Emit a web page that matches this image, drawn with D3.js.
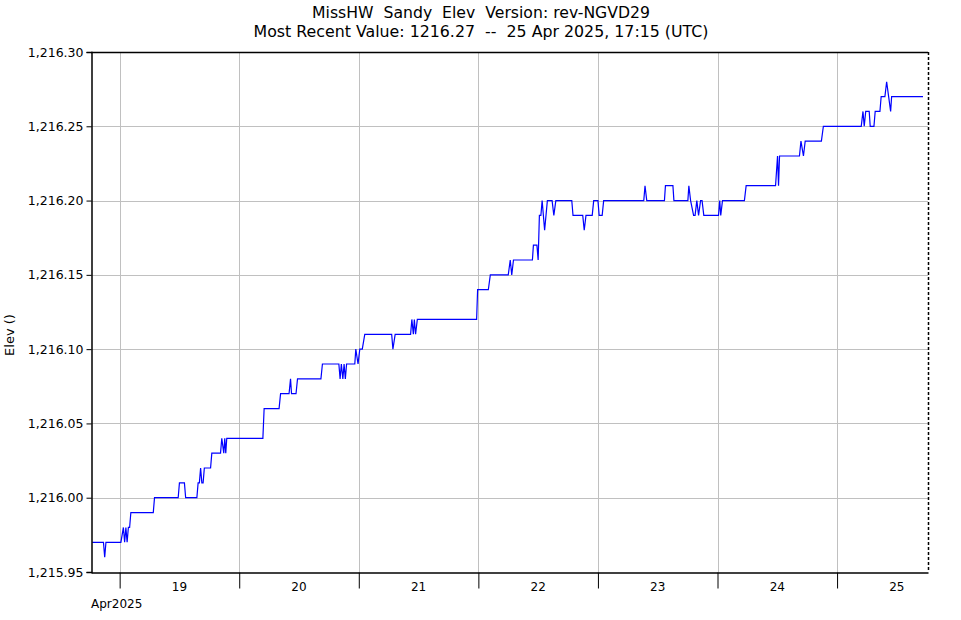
<!DOCTYPE html>
<html><head><meta charset="utf-8">
<script src="https://cdn.jsdelivr.net/npm/d3@7"></script>
<style>body{margin:0;background:#fff;} svg{display:block;} text{white-space:pre;}</style>
</head><body>
<svg id="c" width="961" height="620"></svg>
<script>
// Hours since 2025-04-19 00:00 UTC, and elevation values at those times
const hours = [
 -5.5,-3.25,-3.0,-2.75,0.25,0.75,1.0,1.25,1.5,1.75,2.0,2.25,6.75,7.0,11.75,12.0,13.0,13.25,15.5,15.75,
 16.0,16.25,16.5,16.75,17.0,18.25,18.5,20.25,20.5,20.9,21.1,21.3,21.5,28.75,29.0,32.0,32.3,34.0,34.3,34.5,
 35.4,35.7,40.4,40.7,44.0,44.25,44.5,44.8,45.05,45.3,45.55,47.2,47.4,47.85,48.2,48.7,49.2,54.6,54.85,55.3,
 58.4,58.65,58.95,59.15,59.4,59.75,71.65,71.85,74.0,74.4,78.0,78.4,78.7,79.05,82.85,83.05,83.75,84.0,84.25,84.55,
 84.8,85.3,85.85,86.8,87.15,87.55,90.75,91.0,92.95,93.25,93.6,94.85,95.15,96.0,96.25,96.85,97.15,105.2,105.45,105.8,
 109.35,109.55,111.05,111.25,114.05,114.25,114.6,115.2,115.5,115.85,116.2,116.6,116.9,117.25,120.2,120.45,120.65,121.0,125.4,125.75,
 131.65,132.05,132.25,132.45,136.45,136.75,137.25,137.6,140.85,141.25,148.85,149.2,149.45,149.75,150.45,150.65,151.4,151.65,152.6,152.85,
 153.6,153.95,154.35,154.75,154.95,161.25
];
const values = [
 1215.97,1215.97,1215.96,1215.97,1215.97,1215.98,1215.97,1215.98,1215.97,1215.98,1215.98,1215.99,1215.99,1216.00,1216.00,1216.01,1216.01,1216.00,1216.00,1216.01,
 1216.01,1216.02,1216.01,1216.01,1216.02,1216.02,1216.03,1216.03,1216.04,1216.03,1216.04,1216.03,1216.04,1216.04,1216.06,1216.06,1216.07,1216.07,1216.08,1216.07,
 1216.07,1216.08,1216.08,1216.09,1216.09,1216.08,1216.09,1216.08,1216.09,1216.08,1216.09,1216.09,1216.10,1216.09,1216.10,1216.10,1216.11,1216.11,1216.10,1216.11,
 1216.11,1216.12,1216.11,1216.12,1216.11,1216.12,1216.12,1216.14,1216.14,1216.15,1216.15,1216.16,1216.15,1216.16,1216.16,1216.17,1216.17,1216.16,1216.19,1216.19,
 1216.20,1216.18,1216.20,1216.20,1216.19,1216.20,1216.20,1216.19,1216.19,1216.18,1216.19,1216.19,1216.20,1216.20,1216.19,1216.19,1216.20,1216.20,1216.21,1216.20,
 1216.20,1216.21,1216.21,1216.20,1216.20,1216.21,1216.20,1216.19,1216.19,1216.20,1216.19,1216.20,1216.20,1216.19,1216.19,1216.20,1216.19,1216.20,1216.20,1216.21,
 1216.21,1216.23,1216.21,1216.23,1216.23,1216.24,1216.23,1216.24,1216.24,1216.25,1216.25,1216.26,1216.25,1216.26,1216.26,1216.25,1216.25,1216.26,1216.26,1216.27,
 1216.27,1216.28,1216.27,1216.26,1216.27,1216.27
];
const yTicks = [1215.95,1216.00,1216.05,1216.10,1216.15,1216.20,1216.25,1216.30];
const dayTicks = ["2025-04-19","2025-04-20","2025-04-21","2025-04-22","2025-04-23","2025-04-24","2025-04-25"];
const dayLabels = ["19","20","21","22","23","24","25"];
const titleLines = ["MissHW  Sandy  Elev  Version: rev-NGVD29","Most Recent Value: 1216.27  --  25 Apr 2025, 17:15 (UTC)"];
const yLabel = "Elev ()";
const monthLabel = "Apr2025";

const base = Date.UTC(2025,3,19);
const data = hours.map((h,i)=>({t:new Date(base + h*3600e3), v:values[i]}));

const L=91, R=928, T=52, B=572;
const svg = d3.select("#c");
const font = "DejaVu Sans, sans-serif";

const x = d3.scaleUtc().domain([new Date(Date.UTC(2025,3,18,18,15)), new Date(Date.UTC(2025,3,25,18,15))]).range([L,R]);
const y = d3.scaleLinear().domain([1215.95,1216.30]).range([B,T]);
const dayDates = dayTicks.map(s=>new Date(s+"T00:00:00Z"));

// grid
const g = svg.append("g");
g.selectAll("line.gy").data(yTicks.slice(1,-1)).join("line")
 .attr("x1",L).attr("x2",R).attr("y1",d=>Math.round(y(d))+0.5).attr("y2",d=>Math.round(y(d))+0.5)
 .attr("stroke","#c0c0c0").attr("stroke-width",1);
g.selectAll("line.gx").data(dayDates).join("line")
 .attr("x1",d=>Math.round(x(d))+0.5).attr("x2",d=>Math.round(x(d))+0.5).attr("y1",T).attr("y2",B)
 .attr("stroke","#c0c0c0").attr("stroke-width",1);

// data line
svg.append("path").datum(data)
 .attr("d", d3.line().x(d=>x(d.t)).y(d=>y(d.v)))
 .attr("fill","none").attr("stroke","#0000ff").attr("stroke-width",1.2);

// borders
svg.append("line").attr("x1",L).attr("x2",R).attr("y1",T+0.5).attr("y2",T+0.5).attr("stroke","#000").attr("stroke-width",1.5);
svg.append("line").attr("x1",R+0.5).attr("x2",R+0.5).attr("y1",T).attr("y2",B).attr("stroke","#000").attr("stroke-width",1.5).attr("stroke-dasharray","3,2");

// y axis
const yAxis = d3.axisLeft(y).tickValues(yTicks).tickFormat(d3.format(",.2f")).tickSize(5).tickPadding(3);
const ya = svg.append("g").attr("transform",`translate(${L+0.5},0)`).call(yAxis);
ya.select(".domain").attr("stroke","#000").attr("stroke-width",1.5);
ya.selectAll("text").attr("font-family",font).attr("font-size",12.5).attr("fill","#000");

// x axis
const xAxis = d3.axisBottom(x).tickValues(dayDates).tickFormat("").tickSize(16).tickSizeOuter(0);
const xa = svg.append("g").attr("transform",`translate(0,${B+0.5})`).call(xAxis);
xa.select(".domain").attr("stroke","#000").attr("stroke-width",1.5);
xa.selectAll(".tick line").attr("stroke","#000");
svg.selectAll("text.dl").data(dayDates).join("text").attr("class","dl")
 .attr("x",d=>x(new Date(+d + 12*3600e3))).attr("y",591)
 .attr("text-anchor","middle").attr("font-family",font).attr("font-size",12).text((d,i)=>dayLabels[i]);
svg.append("text").attr("x",L).attr("y",608).attr("font-family",font).attr("font-size",12).text(monthLabel);

// titles
const titleWidths = [338, 455];
svg.selectAll("text.tt").data(titleLines).join("text").attr("class","tt")
 .attr("x",481).attr("y",(d,i)=>18+i*19).attr("text-anchor","middle")
 .attr("xml:space","preserve")
 .attr("textLength",(d,i)=>titleWidths[i]).attr("lengthAdjust","spacingAndGlyphs")
 .attr("font-family",font).attr("font-size",15.5).text(d=>d);

// y label
svg.append("text").attr("transform","translate(14,335) rotate(-90)").attr("text-anchor","middle")
 .attr("font-family",font).attr("font-size",13).text(yLabel);
</script>
</body></html>
